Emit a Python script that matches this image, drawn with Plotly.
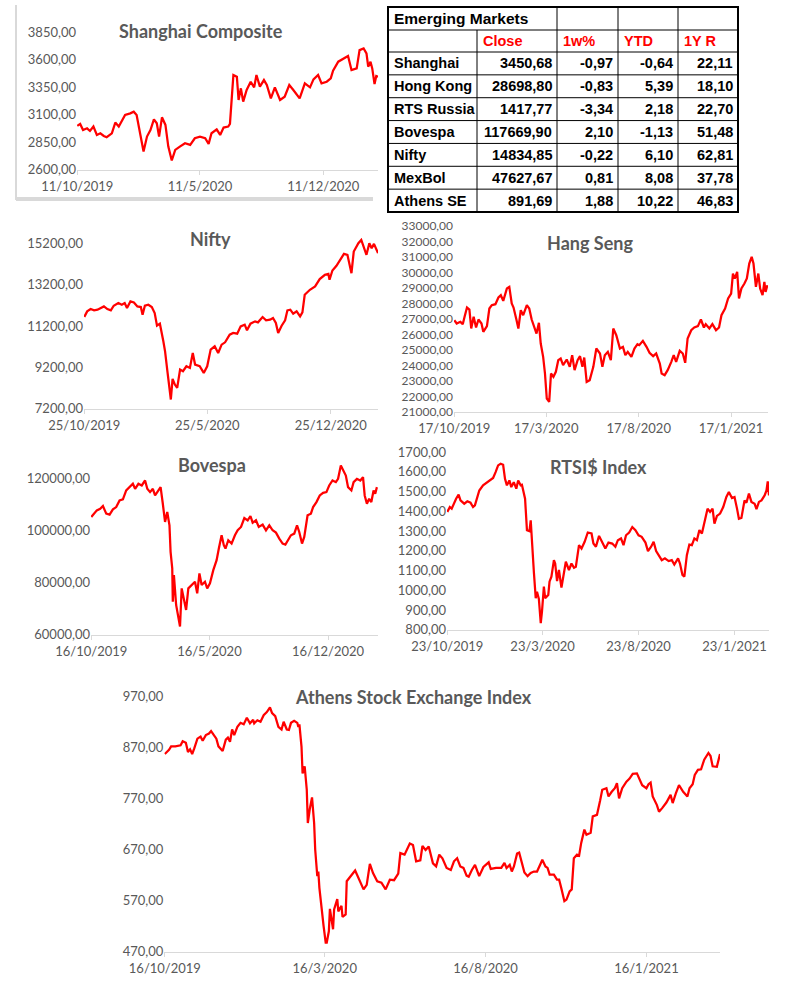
import pandas as pd
import plotly.graph_objects as go

W, H = 792, 1001
def X(px): return px / W
def Y(py): return 1 - py / H

# ---------------- data (day offsets from each chart's first date, index level) ----------------
sh_start = "2019-10-11"
sh_days = [0,5,10,17,22,28,34,40,46,51, 60,66,72,77,83,92,98,103,109,115, 121,127,133,138,142,147,153,158,164,170,
           178,187,196,204,213,222,228,233,242,248, 254,262,265,271,277,280,284,288,294,301, 307,311,317,324,329,336,343,352,360,368,
           375,381,386,395,404,410,418,424,433,440, 444,453,462,470,476,485,490,497,502,505, 509,512,516,519,522]
sh_vals = [2999,3017,2962,2977,2953,2993,2917,2932,2908,2896, 2932,3029,2993,3038,3098,3113,3128,3098,2947,2766,
           2902,2962,3059,3023,2902,3077,3008,2811,2685,2781, 2811,2842,2827,2887,2902,2887,2836,2932,2968,2917,
           2984,2993,3017,3461,3446,3234,3340,3219,3325,3400, 3349,3461,3355,3415,3370,3249,3349,3234,3264,3370,
           3325,3279,3249,3385,3349,3421,3461,3385,3400,3430, 3500,3582,3612,3633,3506,3521,3687,3702,3657,3536,
           3582,3521,3379,3452,3446]

nf_start = "2019-10-25"
nf_days = [0,5,11,17,23,28,34,40,46,51, 59,65,70,74,80,86,92,98,101,105, 111,117,122,126,131,137,140,144,147,150,
           153,157,161,166,171,177,183,188,192,200, 207,213,219,226,232,238,244,252,258,265, 271,278,282,288,296,301,309,315,322,327,
           332,336,342,348,352,357,362,368,374,378, 382,391,400,408,417,423,425,430,437,444, 450,456,459,463,467,475,480,484,489,494,
           498,502,505,509]
nf_vals = [11633,11906,12018,11954,11986,12066,12146,12018,11954,12179, 12307,12227,12307,12066,12387,12339,12146,12114,11745,12179,
           12227,12114,11825,11215,11311,10460,9978,9015,8292,7650, 8645,8372,8212,9095,9015,9256,9175,9898,9336,9256,
           8934,9256,10059,10219,9898,10299,10412,10781,10862,10830, 11183,11263,10990,11311,11424,11376,11633,11472,11504,11584,
           11343,10862,11215,11472,11954,11986,11793,11906,11665,11858, 12708,12949,13110,13463,13672,13720,13431,13881,14106,14427,
           14684,14636,14234,13752,14796,15198,15358,15069,14636,15198, 14957,15166,15005,14716]

hs_start = "2019-10-17"
hs_days = [0,4,10,14,17,21,25,28,32,36, 40,45,48,54,58,62,68,73,77,81, 87,91,95,98,103,106,110,114,120,124,
           128,132,136,140,143,147,150,153,157,160, 164,168,172,176,180,186,191,195,199,204, 208,212,215,219,224,230,235,241,245,249,
           254,259,263,268,274,279,283,287,293,298, 303,306,312,318,323,329,334,340,343,348, 353,359,363,367,373,378,382,386,392,397,
           403,408,413,416,422,427,433,438,442,448, 453,458,461,464,468,471,475,480,484,488, 492,495,499,503,506,510,513,515,518]
hs_vals = [26924,26708,26816,26665,27139,27742,27613,26385,27139,26450, 26967,26708,26170,26536,27677,27893,27957,28388,28539,28173,
           28970,29078,28000,27742,26924,26385,27570,27247,27893,27677, 26967,26536,26062,26751,25416,24554,23477,21862,21646,23477,
           23262,23585,24339,24446,24016,24382,23908,24662,23693,24339, 24597,23908,24511,22939,23046,23908,25093,24769,23908,24662,
           24877,24339,26385,25954,25093,25200,24662,24877,24554,25093, 25373,25308,25588,25200,24812,24597,24769,24123,23477,23370,
           23693,24231,24662,24231,24942,24769,24166,25739,26277,26450, 26536,26967,26450,26665,26385,26665,26277,26450,27247,27677,
           28323,28647,29939,29616,30047,28323,28970,29293,29616,30585, 31016,30585,29078,29939,28970,28539,29401,28754,29185]

bv_start = "2019-10-16"
bv_days = [0,5,10,16,21,27,33,39,45,51, 57,63,69,75,79,85,91,97,101,106, 111,115,119,125,129,133,137,141,143,146,
           147,149,153,157,160,163,166,171,175,181, 187,191,195,199,205,209,214,220,226,230, 235,239,242,247,253,259,264,270,276,282,
           287,291,297,302,309,315,321,327,333,339, 345,350,354,360,366,371,375,380,384,390, 396,400,406,412,418,424,429,435,441,445,
           450,454,459,463,469,473,479,485,490,493, 497,501,505,509,512,515]
bv_vals = [105121,106392,107663,108298,109315,106392,106010,108044,108934,111476, 111857,115289,116560,117831,115924,117831,117196,119102,115924,114653,
           115924,113382,114653,116560,110205,103214,107027,101943,91775,85420, 72710,82878,71439,66355,63178,77794,74616,69533,77794,79065,
           80336,75888,83514,79065,80336,77794,79700,84785,88597,93046, 98130,94317,93046,96223,94952,98130,100036,101307,104739,103850,
           105502,102960,103850,101307,102197,100036,101943,100036,99147,96859, 94952,94571,96223,98130,98765,101943,99401,94952,97495,105756,
           106392,108934,110840,113382,114399,114653,117196,119102,118467,119738, 124822,123297,121009,116560,115289,118467,119738,119102,120373,113382,
           110205,112111,110840,115289,114018,116560]

rt_start = "2019-10-23"
rt_days = [0,4,7,11,14,18,21,27,32,37, 41,44,48,51,57,62,67,73,77,81, 85,89,92,95,99,102,106,110,113,117,
           119,124,127,131,133,135,138,141,143,146, 149,151,154,156,161,163,166,170,172,175, 178,182,186,189,194,198,202,205,210,214,
           219,224,230,233,237,242,248,252,257,263, 268,272,277,281,285,290,295,300,305,310, 316,320,325,329,333,337,342,347,353,358,
           362,368,371,375,378,382,386,390,394,398, 402,406,410,415,419,423,426,430,435,440, 445,449,454,458,462,465,469,474,477,481,
           485,490,493,497,501,506,509,511,513]
rt_vals = [1397,1422,1414,1448,1464,1485,1456,1439,1451,1444, 1422,1431,1473,1506,1532,1545,1557,1569,1599,1633,
           1641,1636,1565,1532,1557,1523,1548,1515,1557,1532, 1535,1464,1305,1300,1355,1229,1094,960,993,956,
           834,893,1019,960,977,1044,1069,1153,1136,1047, 1103,1014,1086,1145,1103,1136,1115,1120,1229,1212,
           1246,1293,1288,1237,1221,1276,1237,1212,1242,1237, 1221,1254,1263,1229,1279,1293,1321,1305,1279,1271,
           1242,1199,1221,1246,1199,1178,1153,1162,1148,1153, 1131,1162,1136,1078,1069,1178,1232,1229,1263,1254,
           1305,1288,1347,1414,1397,1414,1338,1377,1389,1422, 1473,1498,1468,1473,1414,1363,1367,1456,1444,1490,
           1448,1439,1411,1448,1456,1481,1506,1552,1481]

at_start = "2019-10-16"
at_days = [0,4,6,10,15,17,20,22,24,26, 28,31,34,36,39,42,44,47,49,51, 55,58,60,62,64,66,69,72,75,78,
           81,84,85,88,91,94,97,100,102,105, 108,111,113,116,118,120,123,126,127,128, 130,131,133,135,136,138,140,142,143,145,
           146,147,149,150,151,153,154,156,157,160, 161,164,165,168,169,172,173,181,184,189, 192,195,198,202,206,210,214,218,222,224,
           228,230,233,236,239,243,245,248,251,255, 258,261,264,268,272,275,278,281,284,287, 289,292,295,299,303,308,310,315,320,323,
           325,328,330,332,335,337,339,342,345,348, 351,354,358,359,362,364,366,370,373,375, 377,380,382,385,387,389,392,394,396,399,
           401,405,407,411,414,416,420,422,425,428, 430,432,435,439,442,445,449,451,454,458, 460,462,464,468,470,473,477,481,483,486,
           489,493,497,499,502,504,507,510,513,517, 519,521,525,528]
at_vals = [857,865,872,872,874,882,879,861,866,857, 868,887,891,883,894,897,902,894,887,872, 863,885,889,881,905,894,910,918,915,928,
           917,924,917,923,920,933,939,948,937,931, 910,905,920,905,904,918,922,918,910,915, 871,819,833,787,722,751,772,722,670,618,
           627,595,553,546,520,488,488,510,554,514, 553,573,549,560,538,543,608,629,614,592, 601,642,624,608,605,592,611,610,623,663,
           660,670,682,679,647,649,677,669,676,643, 637,660,653,634,630,647,653,637,634,619, 617,630,640,618,636,645,632,634,634,644,
           634,640,627,637,662,664,647,625,618,624, 627,627,645,650,637,634,621,621,611,611, 595,569,572,588,592,653,660,658,683,709,
           699,703,735,738,766,787,790,774,783,790, 800,770,790,803,809,818,819,811,796,790, 798,801,774,757,744,751,762,777,761,780,
           796,783,774,790,798,816,826,827,846,859, 853,833,832,857]

# table data
tbl_title = "Emerging Markets"
tbl_cols = ["", "Close", "1w%", "YTD", "1Y R"]
tbl_names = ["Shanghai", "Hong Kong", "RTS Russia", "Bovespa", "Nifty", "MexBol", "Athens SE"]
tbl_close = [3450.68, 28698.80, 1417.77, 117669.90, 14834.85, 47627.67, 891.69]
tbl_1w = [-0.97, -0.83, -3.34, 2.10, -0.22, 0.81, 1.88]
tbl_ytd = [-0.64, 5.39, 2.18, -1.13, 6.10, 8.08, 10.22]
tbl_1y = [22.11, 18.10, 22.70, 51.48, 62.81, 37.78, 46.83]

for d, v in [(sh_days, sh_vals), (nf_days, nf_vals), (hs_days, hs_vals), (bv_days, bv_vals), (rt_days, rt_vals), (at_days, at_vals)]:
    assert len(d) == len(v), (len(d), len(v))

# ---------------- layout specs ----------------
charts = [
    dict(title="Shanghai Composite", start=sh_start, days=sh_days, vals=sh_vals, end_day=522,
         xdom=(77, 378), ydom=(170, 32), yr=(2600, 3850), dy=250, dx="M7", txy=(201, 31), fs=13),
    dict(title="Nifty", start=nf_start, days=nf_days, vals=nf_vals, end_day=509,
         xdom=(84, 378), ydom=(409, 237.8), yr=(7200, 15450), dy=2000, dx="M7", txy=(210, 239), fs=13),
    dict(title="Hang Seng", start=hs_start, days=hs_days, vals=hs_vals, end_day=519,
         xdom=(454, 768), ydom=(412, 226), yr=(21000, 33000), dy=1000, dx="M5", txy=(590, 243), fs=12),
    dict(title="Bovespa", start=bv_start, days=bv_days, vals=bv_vals, end_day=517,
         xdom=(91, 378), ydom=(635, 459.7), yr=(60000, 127000), dy=20000, dx="M7", txy=(212, 465), fs=13),
    dict(title="RTSI$ Index", start=rt_start, days=rt_days, vals=rt_vals, end_day=513,
         xdom=(447, 769), ydom=(630, 452), yr=(800, 1700), dy=100, dx="M5", txy=(598, 467), fs=13),
    dict(title="Athens Stock Exchange Index", start=at_start, days=at_days, vals=at_vals, end_day=528,
         xdom=(164.3, 720), ydom=(952, 696), yr=(470, 970), dy=100, dx="M5", txy=(413, 697), fs=13),
]

GRAY = "#595959"
AXIS = "#D9D9D9"
FONT = "Lato"

fig = go.Figure()
layout = dict(width=W, height=H, margin=dict(l=0, r=0, t=0, b=0, pad=0, autoexpand=False), showlegend=False,
              paper_bgcolor="white", plot_bgcolor="rgba(0,0,0,0)", separators=",.")
annotations = []
shapes = []

for i, c in enumerate(charts, start=1):
    t0 = pd.Timestamp(c["start"])
    dates = t0 + pd.to_timedelta(c["days"], unit="D")
    fig.add_trace(go.Scatter(x=dates, y=c["vals"], mode="lines",
                             line=dict(color="#FF0000", width=2.25),
                             xaxis=f"x{i}", yaxis=f"y{i}", hoverinfo="skip"))
    span = c["yr"][1] - c["yr"][0]
    layout[f"xaxis{i}"] = dict(
        type="date", domain=[X(c["xdom"][0]), X(c["xdom"][1])], anchor=f"y{i}", automargin=False,
        range=[t0 - pd.Timedelta(hours=12), t0 + pd.Timedelta(days=c["end_day"])],
        tick0=c["start"], dtick=c["dx"], tickformat="%-d/%-m/%Y",
        showline=True, linecolor=AXIS, linewidth=1, ticks="outside", ticklen=4, tickcolor=AXIS,
        showgrid=False, zeroline=False, tickfont=dict(family=FONT, size=13, color=GRAY), fixedrange=True)
    layout[f"yaxis{i}"] = dict(
        domain=[Y(c["ydom"][0]), Y(c["ydom"][1])], anchor=f"x{i}", automargin=False,
        range=[c["yr"][0] - span * 0.001, c["yr"][1] + span * 0.001],
        tick0=c["yr"][0], dtick=c["dy"], tickformat=".2f",
        showline=False, showgrid=False, zeroline=False, ticks="",
        tickfont=dict(family=FONT, size=c["fs"], color=GRAY), fixedrange=True)
    annotations.append(dict(text=f"<b>{c['title']}</b>", x=X(c["txy"][0]), y=Y(c["txy"][1]),
                            xref="paper", yref="paper", showarrow=False, xanchor="center", yanchor="middle",
                            font=dict(family=FONT, size=18, color=GRAY)))

# Shanghai chart frame
shapes.append(dict(type="line", xref="paper", yref="paper", x0=X(16), x1=X(16), y0=Y(5), y1=Y(200),
                   line=dict(color=AXIS, width=2)))
shapes.append(dict(type="rect", xref="paper", yref="paper", x0=X(16), x1=X(373), y0=Y(201), y1=Y(197),
                   fillcolor=AXIS, line=dict(width=0)))

# ---------------- table (grid + text) ----------------
def fmt(v):
    return f"{v:.2f}".replace(".", ",")

TF = "Liberation Sans"
TS = 14.5
col_edges = [388, 477, 557, 618, 678, 738]
tbl_top, title_h, head_h = 7, 23, 22
tbl_bot = 212
first_row = tbl_top + title_h + head_h
row_h = (tbl_bot - first_row) / len(tbl_names)
row_edges = [tbl_top, tbl_top + title_h] + [first_row + k * row_h for k in range(len(tbl_names) + 1)]

def line(x0, y0, x1, y1, w=1):
    shapes.append(dict(type="line", xref="paper", yref="paper", x0=X(x0), x1=X(x1), y0=Y(y0), y1=Y(y1),
                       line=dict(color="black", width=w)))

for ye in row_edges[1:-1]:
    line(col_edges[0], ye, col_edges[-1], ye)
line(col_edges[1], row_edges[1], col_edges[1], tbl_bot)
for xe in col_edges[2:-1]:
    line(xe, tbl_top, xe, tbl_bot)
shapes.append(dict(type="rect", xref="paper", yref="paper", x0=X(388), x1=X(738), y0=Y(tbl_bot), y1=Y(tbl_top),
                   line=dict(color="black", width=2), layer="above"))

def txt(s, x, y, anchor, color="black", size=TS):
    annotations.append(dict(text=f"<b>{s}</b>", x=X(x), y=Y(y), xref="paper", yref="paper", showarrow=False,
                            xanchor=anchor, yanchor="middle", font=dict(family=TF, size=size, color=color)))

txt(tbl_title, col_edges[0] + 4, (row_edges[0] + row_edges[1]) / 2, "left", size=15.5)
hy = (row_edges[1] + row_edges[2]) / 2
for k, h in enumerate(tbl_cols):
    if h:
        txt(h, col_edges[k] + 4, hy, "left", color="#FF0000")
cols = [tbl_close, tbl_1w, tbl_ytd, tbl_1y]
for r, name in enumerate(tbl_names):
    cy = (row_edges[r + 2] + row_edges[r + 3]) / 2
    txt(name, col_edges[0] + 4, cy, "left")
    for k, colvals in enumerate(cols):
        txt(fmt(colvals[r]), col_edges[k + 2] - 3, cy, "right")

layout["annotations"] = annotations
layout["shapes"] = shapes
fig.update_layout(**layout)
fig.write_html("out.html", config={"displayModeBar": False},
               post_script="document.body.style.margin='0px';")
